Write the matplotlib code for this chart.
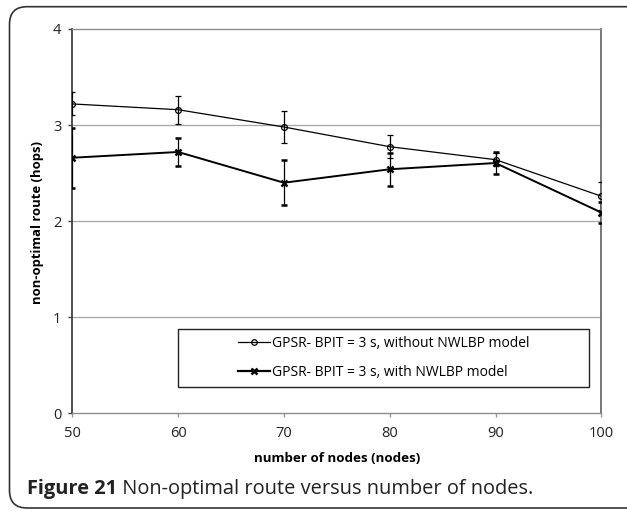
import matplotlib
matplotlib.use("Agg")
import matplotlib.pyplot as plt
from matplotlib.patches import FancyBboxPatch, Rectangle
from matplotlib.lines import Line2D

nodes = [50, 60, 70, 80, 90, 100]
without_model = [3.22, 3.16, 2.98, 2.775, 2.64, 2.26]
without_err = [0.12, 0.145, 0.17, 0.12, 0.07, 0.15]
with_model = [2.66, 2.72, 2.40, 2.54, 2.605, 2.09]
with_err = [0.31, 0.145, 0.235, 0.17, 0.11, 0.11]
label_without = "GPSR- BPIT = 3 s, without NWLBP model"
label_with = "GPSR- BPIT = 3 s, with NWLBP model"
x_ticks = [50, 60, 70, 80, 90, 100]
y_ticks = [0, 1, 2, 3, 4]

plt.rcParams['font.family'] = ['Open Sans', 'DejaVu Sans']

W, H = 627, 511
fig = plt.figure(figsize=(W / 100, H / 100), dpi=100)

def fx(px):
    return px / W

def fy(py):
    return (H - py) / H

ax_l, ax_r, ax_t, ax_b = 72.3, 601.3, 29.0, 413.3
ax = fig.add_axes([fx(ax_l), fy(ax_b), fx(ax_r - ax_l), (ax_b - ax_t) / H])

ax.set_xlim(50, 100)
ax.set_ylim(0, 4)
ax.set_xticks(x_ticks)
ax.set_yticks(y_ticks)
ax.tick_params(axis='both', labelsize=10.5, labelcolor='#222222')
ax.tick_params(axis='y', direction='out', length=3, width=1, color='#404040', pad=5)
ax.tick_params(axis='x', direction='out', length=3, width=1, color='#999999', pad=6)

for y in y_ticks[1:-1]:
    ax.axhline(y, color='#a6a6a6', lw=0.9, zorder=0)

ax.spines['left'].set_color('#404040')
ax.spines['left'].set_linewidth(1.3)
ax.spines['bottom'].set_color('#8c8c8c')
ax.spines['bottom'].set_linewidth(1.0)
ax.spines['top'].set_color('#8c8c8c')
ax.spines['top'].set_linewidth(1.0)
ax.spines['right'].set_color('#606060')
ax.spines['right'].set_linewidth(1.2)

ax.errorbar(nodes, without_model, yerr=without_err, color='black', lw=0.9,
            marker='o', markersize=4.2, markerfacecolor='none', markeredgewidth=0.9,
            ecolor='black', elinewidth=0.9, capsize=2.5, capthick=0.9,
            label=label_without, zorder=3)
ax.errorbar(nodes, with_model, yerr=with_err, color='black', lw=1.4,
            marker='x', markersize=4.5, markeredgewidth=1.8,
            ecolor='black', elinewidth=0.9, capsize=2.5, capthick=0.9,
            label=label_with, zorder=3)

ax.set_xlabel("number of nodes (nodes)", fontsize=9.6, fontweight='bold', va='baseline')
ax.xaxis.set_label_coords(0.5, (ax_b - 461.7) / (ax_b - ax_t))
ax.set_ylabel("non-optimal route (hops)", fontsize=9.4, fontweight='bold', va='center')
ax.yaxis.set_label_coords((38 - ax_l) / (ax_r - ax_l), (ax_b - 223) / (ax_b - ax_t))

# legend frame (Excel-style wide box) and centered entries
lx0, lx1, ly0, ly1 = 178.3, 589.0, 329.0, 386.7
fig.patches.append(Rectangle((fx(lx0), fy(ly1)), fx(lx1 - lx0), (ly1 - ly0) / H,
                             transform=fig.transFigure, fill=False,
                             edgecolor='#222222', lw=1.0, zorder=5))
handles = [Line2D([], [], color='black', lw=0.9, marker='o', markersize=4,
                  markerfacecolor='none', markeredgewidth=0.9),
           Line2D([], [], color='black', lw=1.6, marker='x', markersize=4.5,
                  markeredgewidth=1.8)]
fig.legend(handles, [label_without, label_with], loc='center',
           bbox_to_anchor=(fx((lx0 + lx1) / 2), fy((ly0 + ly1) / 2)),
           frameon=False, fontsize=10, handlelength=2.3, handletextpad=0.1,
           labelspacing=1.0, borderpad=0)

# caption
fig.canvas.draw()
cap_y = fy(494)
t1 = fig.text(fx(26.7), cap_y, "Figure 21", fontsize=14.4, fontweight='bold',
              va='baseline', ha='left', color='#222222')
fig.canvas.draw()
bb = t1.get_window_extent(fig.canvas.get_renderer())
fig.text(bb.x1 / W, cap_y, " Non-optimal route versus number of nodes.", fontsize=14.4,
         va='baseline', ha='left', color='#222222')

# outer rounded border (cropped on the right as in the source)
fig.patches.append(FancyBboxPatch((fx(9.5), fy(508)), fx(700), (508 - 6.7) / H,
                                  boxstyle="round,pad=0,rounding_size=0.028",
                                  transform=fig.transFigure, fill=False,
                                  edgecolor='#333333', lw=1.2, mutation_aspect=W / H))

fig.savefig("out.png", dpi=100)
